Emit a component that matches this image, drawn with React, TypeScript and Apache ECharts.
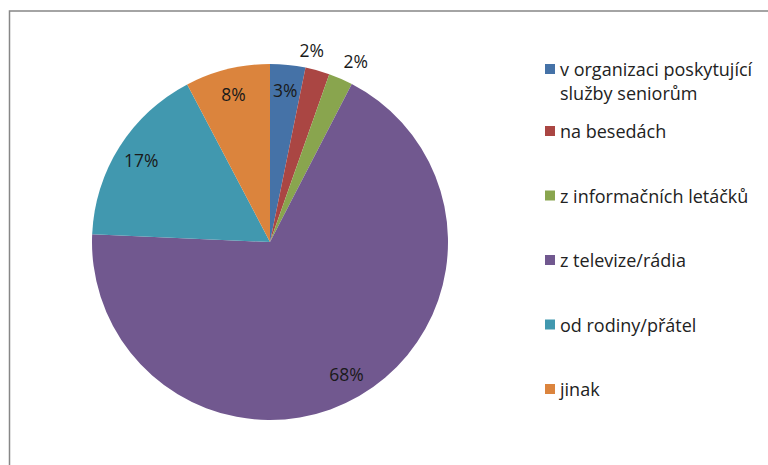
import React, { useEffect, useRef } from "react";
import * as echarts from "echarts";

const categories = [
  "v organizaci poskytující služby seniorům",
  "na besedách",
  "z informačních letáčků",
  "z televize/rádia",
  "od rodiny/přátel",
  "jinak",
];
const values = [3.2, 2.2, 2.2, 68.1, 16.6, 7.7];
const colors = ["#4572A7", "#AA4643", "#89A54E", "#71588F", "#4198AF", "#DB843D"];
const outsideLabelNames = ["na besedách", "z informačních letáčků"];

const FONT = "'Open Sans', 'Noto Sans', sans-serif";

export default function App() {
  const ref = useRef<HTMLDivElement>(null);
  useEffect(() => {
    document.body.style.margin = "0";
    const chart = echarts.init(ref.current!, undefined, { renderer: "svg" });
    const center = [270, 242];
    const R = 178;
    const labelFmt = (p: any) => Math.round(p.percent) + "%";
    const baseData = categories.map((name, i) => ({
      name,
      value: values[i],
      itemStyle: { color: colors[i] },
    }));
    const outOffsets: Record<string, number[]> = {
      "na besedách": [-12, 2],
      "z informačních letáčků": [6, 3],
    };
    const overlayData = (outside: boolean) =>
      categories.map((name, i) => {
        const isOut = outsideLabelNames.includes(name);
        return {
          name,
          value: values[i],
          itemStyle: { color: "rgba(0,0,0,0)" },
          label: outside && isOut
            ? { show: true, offset: outOffsets[name] }
            : { show: outside ? isOut : !isOut },
        };
      });
    const overlayLabel = {
      position: "inside",
      formatter: labelFmt,
      color: "#1a1a1a",
      fontFamily: FONT,
      fontSize: 17.5,
    };
    chart.setOption({
      animation: false,
      color: colors,
      graphic: [
        {
          type: "rect",
          shape: { x: 9.5, y: 11, width: 800, height: 500 },
          style: { fill: "none", stroke: "#878787", lineWidth: 1.5 },
          silent: true,
        },
      ],
      legend: [
        {
          orient: "vertical",
          left: 540,
          top: 28,
          icon: "rect",
          itemWidth: 10,
          itemHeight: 10,
          selectedMode: false,
          data: [categories[0]],
          formatter: () => " \nv organizaci poskytující\nslužby seniorům",
          textStyle: { fontFamily: FONT, fontSize: 18, lineHeight: 24, color: "#222" },
        },
        {
          orient: "vertical",
          left: 540,
          top: 116,
          icon: "rect",
          itemWidth: 10,
          itemHeight: 10,
          itemGap: 44.5,
          selectedMode: false,
          data: categories.slice(1),
          textStyle: { fontFamily: FONT, fontSize: 18, lineHeight: 20, color: "#222" },
        },
      ],
      series: [
        {
          type: "pie",
          center,
          radius: [0, R],
          startAngle: 90,
          clockwise: true,
          label: { show: false },
          labelLine: { show: false },
          emphasis: { disabled: true },
          data: baseData,
        },
        {
          type: "pie",
          center,
          radius: [R * 0.68, R],
          startAngle: 90,
          silent: true,
          avoidLabelOverlap: false,
          label: overlayLabel,
          labelLine: { show: false },
          emphasis: { disabled: true },
          data: overlayData(false),
        },
        {
          type: "pie",
          center,
          radius: [R, R + 40],
          startAngle: 90,
          silent: true,
          avoidLabelOverlap: false,
          label: overlayLabel,
          labelLine: { show: false },
          emphasis: { disabled: true },
          data: overlayData(true),
        },
      ],
    });
    return () => chart.dispose();
  }, []);
  return <div ref={ref} style={{ width: 768, height: 465 }} />;
}
